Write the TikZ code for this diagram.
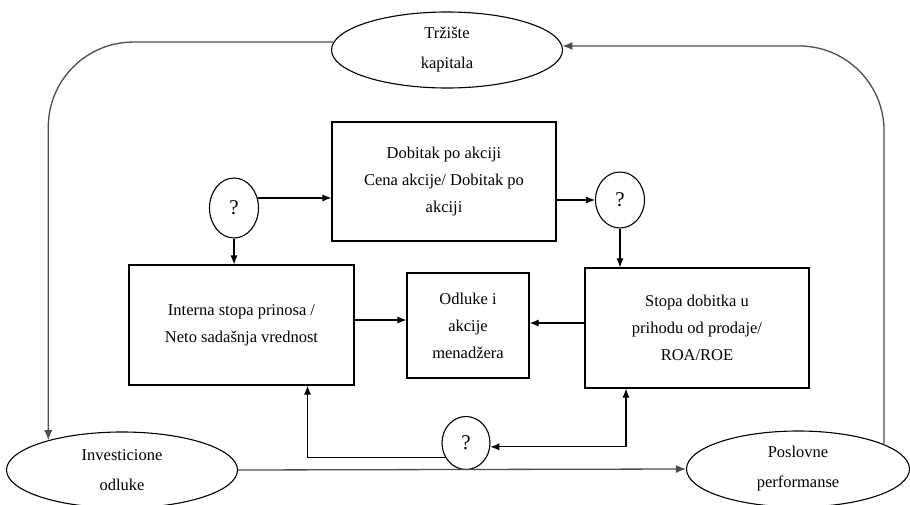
\documentclass[tikz,border=0pt]{standalone}
\usepackage{fontspec}
\setmainfont{Liberation Serif}
\usetikzlibrary{shapes,shapes.geometric,arrows.meta,calc}
\tikzset{
    box/.style={draw, line width=1.1pt, align=center, text centered,
    font=\fontsize{16.5}{27}\selectfont},
    oval/.style={ellipse, draw, line width=1.1pt, align=center, inner sep=0pt,
    font=\fontsize{16.5}{30}\selectfont},
    qnode/.style={ellipse, draw, line width=1.1pt, inner sep=0pt,
    font=\fontsize{21}{24}\selectfont},
    arr/.style={line width=1.1pt, -{Latex[length=9pt,width=7pt]}},
    looparr/.style={draw=black!70, line width=1.3pt, rounded corners=85pt,
    -{Latex[length=10pt,width=8pt]}}
}

\begin{document}
\begin{tikzpicture}[x=1pt,y=-1pt]
    \useasboundingbox (0,0) rectangle (910,505);

    % outer ovals
    \node [oval, minimum width=231pt, minimum height=76pt] (trziste) at (447,50) {Tržište\\kapitala};
    \node [oval, minimum width=231pt, minimum height=76pt] (invest) at (122,470) {Investicione\\odluke};
    \node [oval, minimum width=223pt, minimum height=76pt] (poslovne) at (798,469) {Poslovne\\performanse};

    % boxes
    \node [box, minimum width=224pt, minimum height=119pt] (dobitak) at (444,181.5) {Dobitak po akciji\\Cena akcije/ Dobitak po\\akciji};
    \node [box, minimum width=225pt, minimum height=120pt] (interna) at (241.5,325) {Interna stopa prinosa /\\Neto sadašnja vrednost};
    \node [box, minimum width=122pt, minimum height=105pt] (odluke) at (468,325.5) {Odluke i\\akcije\\menadžera};
    \node [box, minimum width=224pt, minimum height=120pt] (stopa) at (697,328) {Stopa dobitka u\\prihodu od prodaje/\\ROA/ROE};

    % question marks
    \node [qnode, minimum width=49pt, minimum height=60pt] (q1) at (234,208) {?};
    \node [qnode, minimum width=49pt, minimum height=56pt] (q2) at (620,200) {?};
    \node [qnode, minimum width=48pt, minimum height=53pt] (q3) at (466,443) {?};

    % big loop
    \draw [looparr] (trziste.176) -| (invest.158);
    \draw [looparr] (poslovne.16) |- (trziste.2);
    \draw [looparr, rounded corners=0pt] (invest.east) -- (poslovne.west);

    % inner arrows
    \draw [arr] (q1.23) -- (q1.23 -| dobitak.west);
    \draw [arr] (dobitak.east |- q2.west) -- (q2.west);
    \draw [arr] (q1.south) -- (q1.south |- interna.north);
    \draw [arr] (q2.south) -- (q2.south |- stopa.north);
    \draw [arr] ([yshift=5pt]interna.east) -- ([yshift=5pt]interna.east -| odluke.west);
    \draw [arr] ([yshift=5pt]stopa.west) -- ([yshift=5pt]stopa.west -| odluke.east);
    \draw [arr] (q3.214) -| ([xshift=66pt]interna.south);
    \draw [arr, {Latex[length=9pt,width=7pt]}-{Latex[length=9pt,width=7pt]}] (q3.-9) -| ([xshift=-71pt]stopa.south);
\end{tikzpicture}
\end{document}
